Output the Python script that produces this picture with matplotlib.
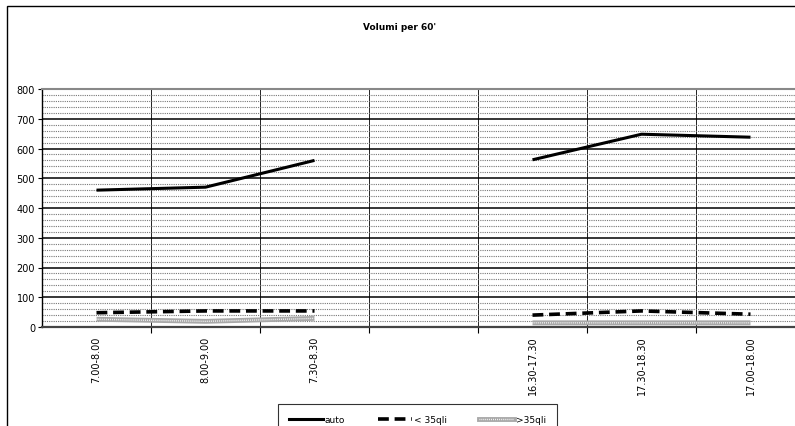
import numpy as np
import matplotlib.pyplot as plt
from matplotlib.patches import Rectangle

# categories (one empty slot between morning and evening)
fasce = ["7.00-8.00", "8.00-9.00", "7.30-8.30", "", "16.30-17.30", "17.30-18.30", "17.00-18.00"]
auto = [460, 470, 560, np.nan, 562, 648, 638]
meno35 = [48, 54, 54, np.nan, 40, 54, 43]
piu35 = [26, 19, 29, np.nan, 14, 14, 14]

W, H = 795, 427
fig = plt.figure(figsize=(W / 100, H / 100), dpi=100)

# plot area (extends past the right edge, like the original screenshot)
x0, x1 = 42, 805
y_top, y_bot = 90, 328
ax = fig.add_axes([x0 / W, (H - y_bot) / H, (x1 - x0) / W, (y_bot - y_top) / H])

x = np.arange(len(fasce))

ax.plot(x, auto, color='black', lw=2.2, solid_capstyle='butt')
ax.plot(x, meno35, color='black', lw=2.6, dashes=(3, 1.6))
ax.plot(x, piu35, color='#a8a8a8', lw=3.5, solid_capstyle='butt')
ax.plot(x, piu35, color='white', lw=1.0, dashes=(0.6, 0.8))

ax.set_xlim(-0.5, len(fasce) - 0.5)
ax.set_ylim(0, 800)

# gridlines
ax.set_yticks(np.arange(0, 801, 100))
ax.set_yticks(np.arange(0, 801, 20), minor=True)
ax.grid(axis='y', which='minor', color='#777777', lw=0.8, ls=(0, (1, 1)))
ax.grid(axis='y', which='major', color='black', lw=1.1, ls='-')
ax.set_xticks(x)
ax.set_xticklabels(fasce, rotation=90, fontsize=7)
ax.set_xticks(x[:-1] + 0.5, minor=True)
ax.grid(axis='x', which='minor', color='#222222', lw=0.7)
ax.tick_params(axis='x', which='major', length=0, pad=6)
ax.tick_params(axis='x', which='minor', length=4, direction='out', width=0.8)
ax.tick_params(axis='y', which='major', labelsize=7, length=3, width=0.8, pad=2)
ax.tick_params(axis='y', which='minor', length=0)
ax.set_axisbelow(True)

ax.spines['right'].set_visible(False)
ax.spines['top'].set_color('#888888')
ax.spines['top'].set_linewidth(1.5)
ax.spines['left'].set_linewidth(1.0)
ax.spines['bottom'].set_linewidth(1.6)
ax.spines['bottom'].set_color('#444444')

fig.text(400 / W, 1 - 27 / H, "Volumi per 60'", ha='center', va='center',
         fontsize=6.5, fontweight='bold')

# outer chart border (only left and top visible in the crop)
fig.patches.append(Rectangle((7 / W, -0.1), 1.2, 1 - 7 / H + 0.1, transform=fig.transFigure,
                             fill=False, edgecolor='black', lw=1.0))

# legend
h1, = ax.plot([], [], color='black', lw=2.2)
h2, = ax.plot([], [], color='black', lw=2.6, dashes=(3, 1.6))
h3a, = ax.plot([], [], color='#a8a8a8', lw=3.5)
h3b, = ax.plot([], [], color='white', lw=1.0, dashes=(0.6, 0.8))
leg = fig.legend([h1, h2, (h3a, h3b)], ['auto', '< 35qli', '>35qli'],
                 loc='upper left', bbox_to_anchor=(278 / W, 1 - 405 / H),
                 ncol=3, fontsize=6.5, frameon=True, fancybox=False,
                 edgecolor='black', handlelength=3.8, handletextpad=0.2,
                 columnspacing=3.6, borderpad=1.2, borderaxespad=0)
leg.get_frame().set_linewidth(0.8)

fig.savefig('out.png', dpi=100)
